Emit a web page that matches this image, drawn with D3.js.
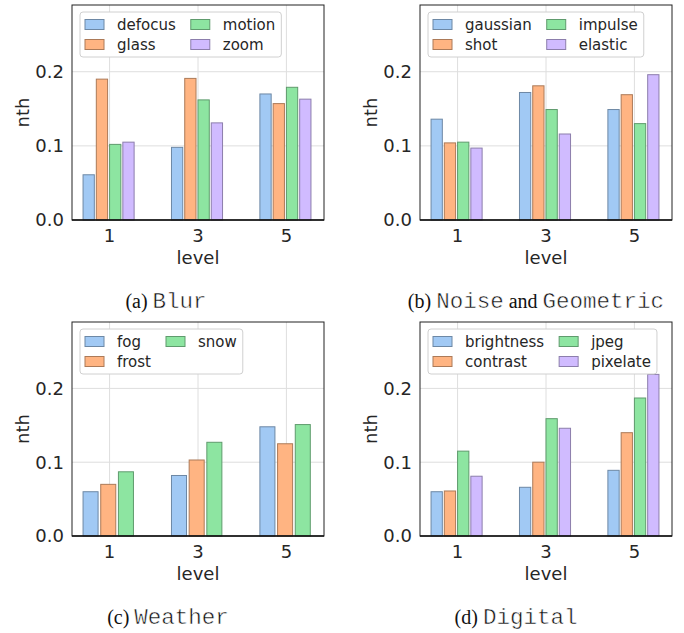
<!DOCTYPE html>
<html>
<head>
<meta charset="utf-8">
<script src="https://cdn.jsdelivr.net/npm/d3@7"></script>
<style>
  body { margin: 0; background: #fff; }
  svg { display: block; font-family: "DejaVu Sans", sans-serif; }
</style>
</head>
<body>
<svg width="684" height="633"></svg>
<script>
// data
const levels = [1, 3, 5];
const yTicks = [0, 0.1, 0.2];

const blurNames = ["defocus", "glass", "motion", "zoom"];
const blurValues = [
  [0.061, 0.098, 0.170],
  [0.190, 0.191, 0.157],
  [0.102, 0.162, 0.179],
  [0.105, 0.131, 0.163],
];

const noiseNames = ["gaussian", "shot", "impulse", "elastic"];
const noiseValues = [
  [0.136, 0.172, 0.149],
  [0.104, 0.181, 0.169],
  [0.105, 0.149, 0.130],
  [0.097, 0.116, 0.196],
];

const weatherNames = ["fog", "frost", "snow"];
const weatherValues = [
  [0.060, 0.082, 0.148],
  [0.070, 0.103, 0.125],
  [0.087, 0.127, 0.151],
];

const digitalNames = ["brightness", "contrast", "jpeg", "pixelate"];
const digitalValues = [
  [0.060, 0.066, 0.089],
  [0.061, 0.100, 0.140],
  [0.115, 0.159, 0.187],
  [0.081, 0.146, 0.219],
];

const colors = ["#a1c9f4", "#ffb482", "#8de5a1", "#d0bbff"];
const textColor = "#262626";

// where each subplot sits
const panels = [
  { names: blurNames, values: blurValues, left: 72, right: 324, top: 5, bottom: 220, capX: 166,
    caption: [["(a) ", "serif"], ["Blur", "mono"]] },
  { names: noiseNames, values: noiseValues, left: 420, right: 672, top: 5, bottom: 220, capX: 536,
    caption: [["(b) ", "serif"], ["Noise", "mono"], [" and ", "serif"], ["Geometric", "mono"]] },
  { names: weatherNames, values: weatherValues, left: 72, right: 324, top: 322, bottom: 536, capX: 168,
    caption: [["(c) ", "serif"], ["Weather", "mono"]] },
  { names: digitalNames, values: digitalValues, left: 420, right: 672, top: 322, bottom: 536, capX: 516,
    caption: [["(d) ", "serif"], ["Digital", "mono"]] },
];

const svg = d3.select("svg");
svg.append("rect").attr("width", 684).attr("height", 633).attr("fill", "#fff");

panels.forEach((p) => {
  const x = d3.scaleLinear().domain([0.15, 5.85]).range([p.left, p.right]);
  const y = d3.scaleLinear().domain([0, 0.29]).range([p.bottom, p.top]);
  const g = svg.append("g");

  // grid
  g.selectAll(".vg").data(levels).enter().append("line")
    .attr("x1", (d) => x(d)).attr("x2", (d) => x(d))
    .attr("y1", p.top).attr("y2", p.bottom)
    .attr("stroke", "#dedede").attr("stroke-width", 1);
  g.selectAll(".hg").data(yTicks.slice(1)).enter().append("line")
    .attr("x1", p.left).attr("x2", p.right)
    .attr("y1", (d) => y(d)).attr("y2", (d) => y(d))
    .attr("stroke", "#dedede").attr("stroke-width", 1);

  // bars
  const n = p.names.length;
  const pitch = 1.2 / n;
  p.values.forEach((series, i) => {
    g.selectAll(null).data(series).enter().append("rect")
      .attr("x", (d, j) => x(levels[j] - 0.6 + i * pitch))
      .attr("width", x(pitch * 0.85) - x(0))
      .attr("y", (d) => y(d))
      .attr("height", (d) => y(0) - y(d))
      .attr("fill", colors[i])
      .attr("stroke", d3.color(colors[i]).darker(1.1))
      .attr("stroke-width", 1);
  });

  // frame
  g.append("rect")
    .attr("x", p.left).attr("y", p.top)
    .attr("width", p.right - p.left).attr("height", p.bottom - p.top)
    .attr("fill", "none").attr("stroke", "#222").attr("stroke-width", 1);
  g.append("line")
    .attr("x1", p.left).attr("x2", p.right).attr("y1", p.bottom).attr("y2", p.bottom)
    .attr("stroke", "#111").attr("stroke-width", 1.5);

  // tick labels
  g.selectAll(".xt").data(levels).enter().append("text")
    .attr("x", (d) => x(d)).attr("y", p.bottom + 22)
    .attr("text-anchor", "middle").attr("font-size", 18).attr("fill", textColor)
    .text((d) => d);
  g.selectAll(".yt").data(yTicks).enter().append("text")
    .attr("x", p.left - 8).attr("y", (d) => y(d)).attr("dy", "0.36em")
    .attr("text-anchor", "end").attr("font-size", 18).attr("fill", textColor)
    .text(d3.format(".1f"));

  g.append("text")
    .attr("x", (p.left + p.right) / 2).attr("y", p.bottom + 44)
    .attr("text-anchor", "middle").attr("font-size", 18).attr("fill", textColor)
    .text("level");
  g.append("text")
    .attr("transform", `translate(${p.left - 43},${(p.top + p.bottom) / 2}) rotate(-90)`)
    .attr("text-anchor", "middle").attr("font-size", 18).attr("fill", textColor)
    .text("nth");

  // legend, two columns filled column-first
  const lg = g.append("g");
  const box = lg.append("rect")
    .attr("x", p.left + 8).attr("y", p.top + 7).attr("rx", 3)
    .attr("height", 45)
    .attr("fill", "#fff").attr("stroke", "#d0d0d0").attr("stroke-width", 1);
  let colX = p.left + 13;
  let maxRight = 0;
  for (let c = 0; c < 2; c++) {
    let colW = 0;
    for (let r = 0; r < 2; r++) {
      const k = c * 2 + r;
      if (k >= n) continue;
      const cy = p.top + 20 + r * 20;
      lg.append("rect")
        .attr("x", colX).attr("y", cy - 5.5).attr("width", 19).attr("height", 10)
        .attr("fill", colors[k]).attr("stroke", d3.color(colors[k]).darker(1.1));
      const t = lg.append("text")
        .attr("x", colX + 32).attr("y", cy).attr("dy", "0.35em")
        .attr("font-size", 15).attr("fill", textColor)
        .text(p.names[k]);
      colW = Math.max(colW, t.node().getComputedTextLength());
    }
    maxRight = colX + 32 + colW;
    colX = colX + 32 + colW + 15;
  }
  box.attr("width", maxRight + 6 - (p.left + 8));

  // caption: serif text with monospace names
  const cap = svg.append("text")
    .attr("x", p.capX).attr("y", p.bottom + 88)
    .attr("text-anchor", "middle").attr("fill", "#111");
  p.caption.forEach(([s, kind]) => {
    const ts = cap.append("tspan").attr("xml:space", "preserve").text(s);
    if (kind === "mono") {
      ts.attr("font-family", "Liberation Mono, monospace").attr("font-size", 22.5)
        .attr("stroke", "#fff").attr("stroke-width", 0.5);
    } else {
      ts.attr("font-family", "Liberation Serif, serif").attr("font-size", 20);
    }
  });
});
</script>
</body>
</html>
